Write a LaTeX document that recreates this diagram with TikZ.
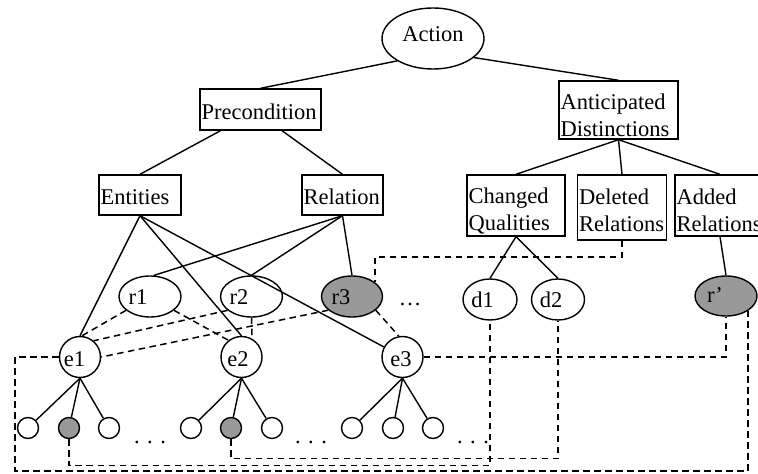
\documentclass[tikz,border=0pt]{standalone}
\usepackage{fontspec}
\setmainfont{Liberation Serif}
\usetikzlibrary{shapes.geometric}
\definecolor{shade}{HTML}{999999}
\begin{document}
\begin{tikzpicture}[x=1bp,y=-1bp,
  line width=1.4bp,
  every node/.style={font=\fontsize{22.5bp}{27bp}\selectfont},
  box/.style={draw, rectangle, inner xsep=1.6bp, inner ysep=0bp, align=left},
  sbox/.style={box, text height=20bp, text depth=0bp},
  oval/.style={draw, ellipse, inner sep=0bp, minimum height=41bp, text height=17bp, text depth=0bp},
  entnode/.style={draw, circle, inner sep=0bp, minimum size=41bp, text height=18bp, text depth=0bp},
  leaf/.style={draw, circle, inner sep=0bp, minimum size=21bp, fill=white},
  shaded/.style={fill=shade},
  dashline/.style={line width=1.5bp, dash pattern=on 6.5bp off 4.5bp},
  dotsnode/.style={anchor=base, inner sep=0bp}
]
\path[use as bounding box] (0,0) rectangle (758,474);
\clip (0,0) rectangle (758,474);

% upper levels
\node[draw, ellipse, minimum width=102bp, minimum height=61bp, inner sep=0bp, text height=6bp, text depth=0bp] (act) at (433,38.5) {Action};
\node[sbox, text width=117.8bp, minimum height=41bp] (pre) at (260.5,109.5) {Precondition};
\node[box, text width=115.8bp, minimum height=58bp] (ant) at (618.5,110) {\rule{0bp}{27bp}Anticipated\\Distinctions};
\node[sbox, text width=78.8bp, minimum height=40bp] (ent) at (140,195) {Entities};
\node[sbox, text width=77.8bp, minimum height=40bp] (rel) at (342.5,195) {Relation};
\node[box, text width=94.8bp, minimum height=61bp] (chq) at (516,205.5) {\rule{0bp}{26bp}Changed\\Qualities};
\node[box, text width=85.8bp, minimum height=65bp] (del) at (622,207.5) {\rule{0bp}{22bp}Deleted\\Relations};
\node[box, text width=86.8bp, minimum height=61bp] (add) at (720,205.5) {\rule{0bp}{26bp}Added\\Relations};

% relation / distinction ovals
\node[oval, minimum width=62bp] (r1) at (150,296.5) {r1\hspace*{24bp}};
\node[oval, minimum width=61bp] (r2) at (251.5,296.5) {r2\hspace*{25bp}};
\node[oval, minimum width=61bp, shaded] (r3) at (352,296.5) {r3\hspace*{22bp}};
\node[oval, minimum width=54bp] (d1) at (490,299.5) {d1\hspace*{15bp}};
\node[oval, minimum width=53bp] (d2) at (558,299.5) {d2\hspace*{14bp}};
\node[oval, minimum width=62bp, minimum height=40bp, text height=14bp, shaded] (rp) at (726,296) {r’\hspace*{22bp}};

% entities
\node[entnode] (e1) at (80,357) {e1\hspace*{11bp}};
\node[entnode] (e2) at (241.5,357) {e2\hspace*{7bp}};
\node[entnode] (e3) at (402.5,357) {e3\hspace*{3bp}};

% leaves
\node[leaf] (l11) at (28,428) {};
\node[leaf, shaded] (l12) at (69,428) {};
\node[leaf] (l13) at (109,428) {};
\node[leaf] (l21) at (191,428) {};
\node[leaf, shaded] (l22) at (231,428) {};
\node[leaf] (l23) at (272,428) {};
\node[leaf] (l31) at (352,428) {};
\node[leaf] (l32) at (393,428) {};
\node[leaf] (l33) at (433,428) {};

% dots
\node[dotsnode] (dots0) at (410,306) {…};
\node[dotsnode] (dots1) at (150,443.5) {. . .};
\node[dotsnode] (dots2) at (311,443.5) {. . .};
\node[dotsnode] (dots3) at (473,443.5) {. . .};

% solid connectors
\draw (act.212) -- (pre.north);
\draw (act.335) -- (ant.north);
\draw ([xshift=-40bp]pre.south) -- (ent.north);
\draw ([xshift=21.5bp]pre.south) -- (rel.north);
\draw (ant.south) -- (chq.north);
\draw (ant.south) -- (del.north);
\draw (ant.south) -- (add.north);
\draw (ent.south) -- (e1.north);
\draw (ent.south) -- (e2.north);
\draw (ent.south) -- (e3);
\draw (rel.south) -- (r1.80);
\draw (rel.south) -- (r2.north);
\draw (rel.south) -- (r3.north);
\draw (chq.south) -- (d1.north);
\draw (chq.south) -- (d2.north);
\draw (add.south) -- (rp.north);
\foreach \e/\a/\b/\c in {e1/l11/l12/l13, e2/l21/l22/l23, e3/l31/l32/l33}{
  \draw (\e.south) -- (\a);
  \draw (\e.south) -- (\b);
  \draw (\e.south) -- (\c);
}

% dashed connectors
\draw[dashline] (r1.210) -- (e1.85);
\draw[dashline] (r1.330) -- (e2.128);
\draw[dashline] (r2.210) -- (e1.50);
\draw[dashline] (r2.south) -- (e2.60);
\draw[dashline] (r3.210) -- (e1.east);
\draw[dashline] (r3.330) -- (e3.100);
\coordinate (c3) at (375,257);
\draw[dashline] (del.south) |- (c3) -- (c3 |- r3.north east);
\coordinate (bl) at (15,471);
\coordinate (br) at (748,471);
\draw[dashline] (e1.west) -| (bl) -- (br) -- (br |- rp.south east);
\draw[dashline] (e3.east) -| (rp.south);
\draw[dashline] (l12.south) |- ([yshift=-145bp]d1.south) -- (d1.south);
\draw[dashline] (l22.south) |- ([yshift=-138bp]d2.south) -- (d2.south);
\end{tikzpicture}
\end{document}
